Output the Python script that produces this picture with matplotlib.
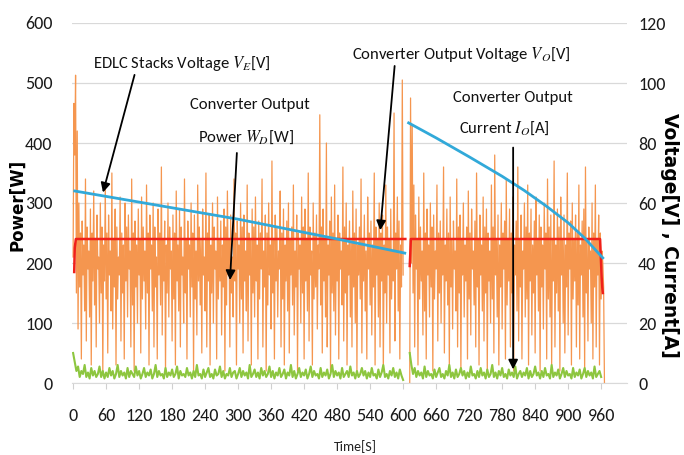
import matplotlib
matplotlib.use("Agg")
import matplotlib.pyplot as plt
import matplotlib.font_manager as fm
import numpy as np

# ---- choose a narrow (Calibri-like) font if one is available ----
_names = {f.name for f in fm.fontManager.ttflist}
_dejavu_cond = any(f.name == 'DejaVu Sans' and 'ondensed' in f.fname for f in fm.fontManager.ttflist)
FONT = None
STRETCH = 'normal'
for cand in ['Carlito', 'Roboto Condensed', 'Liberation Sans Narrow', 'Open Sans Condensed']:
    if cand in _names:
        FONT = cand
        break
if FONT is None:
    if _dejavu_cond:
        FONT, STRETCH = 'DejaVu Sans', 'condensed'
    elif 'Lato' in _names:
        FONT = 'Lato'
    else:
        FONT = 'DejaVu Sans'
plt.rcParams['font.family'] = [FONT, 'DejaVu Sans']
plt.rcParams['font.stretch'] = STRETCH
plt.rcParams['mathtext.fontset'] = 'stix'

# ---------------- data ----------------
x_ticks = [0, 60, 120, 180, 240, 300, 360, 420, 480, 540, 600, 660, 720, 780, 840, 900, 960]
power_ticks = [0, 100, 200, 300, 400, 500, 600]
va_ticks = [0, 20, 40, 60, 80, 100, 120]

# Converter output power W_D [W], segment 1: t = 0..600 s every 1.5 s
power_t1_start, power_t1_step = 0, 1.5
power_seg1 = [
    210, 466, 380, 513, 150, 420, 90, 300, 160, 250, 40, 270, 180, 230, 120, 340, 70, 260, 190, 220,
    110, 290, 30, 250, 170, 320, 130, 240, 60, 280, 190, 210, 100, 300, 150, 260, 20, 230, 170, 330,
    140, 250, 50, 280, 180, 220, 120, 350, 90, 240, 160, 290, 30, 260, 140, 210, 180, 310, 70, 250,
    150, 230, 40, 300, 170, 260, 110, 280, 190, 220, 60, 340, 130, 250, 20, 270, 160, 230, 100, 290,
    180, 240, 50, 310, 140, 260, 170, 220, 90, 330, 150, 250, 30, 280, 190, 230, 120, 300, 60, 260,
    160, 210, 40, 290, 180, 250, 130, 360, 80, 240, 170, 270, 20, 230, 150, 300, 110, 260, 190, 220,
    70, 280, 140, 250, 30, 320, 170, 230, 120, 290, 60, 260, 180, 210, 100, 340, 150, 240, 40, 270,
    190, 230, 110, 300, 160, 250, 20, 280, 140, 220, 80, 330, 170, 260, 130, 240, 50, 290, 180, 210,
    120, 350, 60, 250, 170, 280, 30, 230, 150, 300, 100, 260, 190, 220, 40, 310, 140, 240, 170, 270,
    80, 230, 160, 290, 20, 260, 130, 320, 180, 240, 60, 280, 150, 210, 110, 340, 170, 250, 30, 270,
    190, 230, 100, 300, 140, 260, 50, 280, 170, 220, 120, 330, 70, 250, 180, 240, 30, 290, 150, 260,
    110, 310, 170, 230, 40, 270, 140, 250, 190, 340, 60, 220, 160, 280, 20, 250, 130, 300, 180, 230,
    90, 370, 150, 240, 40, 280, 170, 260, 110, 220, 190, 320, 60, 250, 140, 290, 30, 230, 170, 270,
    120, 300, 50, 240, 180, 260, 130, 330, 80, 220, 160, 280, 20, 250, 190, 230, 100, 310, 150, 260,
    40, 290, 170, 240, 120, 350, 70, 260, 180, 220, 30, 300, 140, 250, 160, 280, 90, 230, 190, 447,
    130, 260, 50, 290, 170, 240, 110, 400, 60, 230, 180, 270, 20, 310, 150, 250, 120, 330, 80, 240,
    170, 280, 40, 250, 190, 220, 130, 360, 70, 260, 150, 300, 30, 230, 180, 270, 110, 240, 60, 320,
    160, 250, 100, 290, 20, 230, 180, 260, 140, 340, 50, 240, 170, 280, 120, 220, 40, 310, 190, 250,
    130, 270, 80, 230, 160, 350, 30, 260, 180, 240, 110, 300, 60, 250, 170, 280, 20, 230, 150, 330,
    100, 260, 180, 240, 50, 290, 140, 220, 170, 450, 70, 250, 190, 310, 120, 270, 40, 230, 160, 505,
    180,
]
# segment 2: t = 612..966 s every 1.5 s
power_t2_start, power_t2_step = 612, 1.5
power_seg2 = [
    0, 475, 200, 430, 150, 330, 60, 280, 190, 240, 30, 310, 140, 260, 170, 220, 80, 350, 120, 250,
    40, 290, 180, 230, 110, 300, 160, 260, 20, 280, 140, 220, 190, 330, 70, 250, 150, 270, 100, 240,
    180, 360, 50, 230, 170, 290, 130, 250, 30, 310, 160, 240, 90, 270, 190, 220, 120, 340, 60, 260,
    150, 280, 20, 240, 180, 300, 110, 230, 170, 260, 40, 320, 140, 250, 80, 290, 190, 220, 130, 270,
    60, 350, 160, 240, 30, 280, 180, 230, 120, 310, 70, 260, 150, 290, 20, 250, 170, 220, 100, 330,
    140, 260, 50, 380, 180, 240, 110, 280, 30, 230, 160, 300, 90, 250, 190, 270, 40, 340, 130, 240,
    170, 290, 60, 250, 150, 310, 20, 230, 180, 270, 120, 360, 70, 240, 160, 280, 40, 220, 190, 300,
    110, 260, 140, 330, 30, 250, 170, 290, 80, 230, 150, 270, 50, 310, 180, 240, 120, 280, 20, 260,
    160, 230, 90, 300, 190, 250, 40, 340, 140, 260, 110, 280, 30, 240, 170, 370, 60, 230, 150, 290,
    120, 260, 20, 310, 180, 240, 100, 280, 50, 230, 160, 350, 80, 250, 190, 270, 30, 300, 140, 240,
    170, 280, 60, 250, 130, 330, 40, 230, 180, 270, 110, 290, 20, 360, 150, 240, 70, 260, 190, 220,
    100, 300, 40, 250, 160, 330, 60, 240, 180, 280, 30, 250, 140, 220, 200, 160, 0,
]

# Converter output current I_O [A], every 3 s
current_t1_start, current_t1_step = 0, 3
current_seg1 = [
    10, 7, 4, 5.5, 2, 4, 3, 6, 2, 3.5, 1.5, 5, 2.5, 4, 2, 3, 5.5, 2, 4, 1.5,
    3.5, 2, 5, 2.5, 4, 1.5, 3, 6, 2, 4, 2.5, 3.5, 1.5, 5, 2, 4, 3, 2, 5.5, 2.5,
    4, 1.5, 3, 5, 2, 3.5, 2.5, 4.5, 1.5, 3, 6, 2, 4, 2.5, 3, 1.5, 5, 2, 3.5, 2.5,
    4.5, 2, 3, 5.5, 1.5, 4, 2.5, 3, 2, 5, 2.5, 3.5, 1.5, 4, 2, 6, 2.5, 3, 1.5, 4.5,
    2, 3.5, 5, 2, 3, 1.5, 4.5, 2.5, 3, 5.5, 2, 4, 1.5, 3, 2.5, 5, 2, 3.5, 4, 1.5,
    3, 5, 2, 4, 2.5, 3.5, 1.5, 6, 2, 3, 4.5, 2, 3.5, 1.5, 5, 2.5, 4, 2, 3, 5.5,
    2, 4, 1.5, 3.5, 2.5, 5, 2, 3, 4.5, 1.5, 3.5, 2.5, 6, 2, 4, 1.5, 3, 5, 2, 3.5,
    2.5, 4.5, 1.5, 3, 5.5, 2, 4, 2.5, 3, 1.5, 5, 2, 3.5, 2.5, 4.5, 1.5, 3, 6, 2, 4,
    2.5, 3.5, 1.5, 5, 2, 3, 4, 2, 5.5, 2.5, 3.5, 1.5, 4, 2, 3, 5, 2.5, 4, 1.5, 3.5,
    2, 5, 2.5, 3, 1.5, 4.5, 2, 3.5, 6, 2, 3, 1.5, 4, 2.5, 5, 2, 3.5, 1.5, 4.5, 2.5,
    1,
]
current_t2_start, current_t2_step = 612, 3
current_seg2 = [
    10, 6, 3, 5, 2, 4, 2.5, 3.5, 1.5, 5.5, 2, 4, 2.5, 3, 1.5, 4.5, 2, 3.5, 5, 2,
    3, 1.5, 4, 2.5, 6, 2, 3.5, 1.5, 4.5, 2, 3, 5, 2.5, 4, 1.5, 3.5, 2, 5.5, 2.5, 3,
    1.5, 4, 2, 5, 2.5, 3.5, 1.5, 4.5, 2, 3, 6, 2, 3.5, 1.5, 4, 2.5, 5, 2, 3, 1.5,
    4.5, 2.5, 3.5, 2, 5.5, 1.5, 3, 4, 2, 3.5, 2.5, 5, 1.5, 4, 2, 3, 5.5, 2.5, 3.5, 1.5,
    4, 2, 5, 2.5, 3, 1.5, 6, 2, 3.5, 2.5, 4.5, 1.5, 3, 5, 2, 4, 2.5, 3, 1.5, 5,
    2, 3.5, 2.5, 4.5, 1.5, 3, 5, 2, 4, 2.5, 3.5, 1.5, 5.5, 2, 3, 4, 2,
]

# EDLC stacks voltage V_E and converter output voltage V_O [V]
volt_t1 = [3, 60, 120, 180, 240, 300, 360, 420, 480, 540, 603]
volt_seg1 = [64.0, 62.2, 60.3, 58.4, 56.5, 54.6, 52.4, 50.2, 48.0, 45.7, 43.3]
volt_t2 = [610, 660, 720, 780, 820, 860, 900, 930, 963]
volt_seg2 = [86.7, 81.7, 75.4, 68.9, 64.2, 59.0, 53.4, 48.3, 41.7]

# red series [V]
red_t1 = [2, 3, 5, 604]
red_seg1 = [37, 45, 48, 48]
red_t2 = [612, 613, 614, 958, 961, 962, 963]
red_seg2 = [39, 43, 48, 48, 35, 32, 30]

# ---------------- figure ----------------
fig = plt.figure(figsize=(6.84, 4.55), dpi=100)
ax = fig.add_axes([72/684, 1-383/455, (627-72)/684, 360/455])
ax2 = ax.twinx()

orange = '#F5964F'
green = '#8DC63F'
blue = '#31A9D9'
red = '#F0201A'

t1 = power_t1_start + power_t1_step*np.arange(len(power_seg1))
t2 = power_t2_start + power_t2_step*np.arange(len(power_seg2))
ax.plot(t1, power_seg1, color=orange, lw=0.9, zorder=2)
ax.plot(t2, power_seg2, color=orange, lw=0.9, zorder=2)

c1 = current_t1_start + current_t1_step*np.arange(len(current_seg1))
c2 = current_t2_start + current_t2_step*np.arange(len(current_seg2))
ax2.plot(c1, current_seg1, color=green, lw=1.5, zorder=3)
ax2.plot(c2, current_seg2, color=green, lw=1.5, zorder=3)

ax2.plot(red_t1, red_seg1, color=red, lw=1.8, zorder=4)
ax2.plot(red_t2, red_seg2, color=red, lw=1.8, zorder=4)
ax2.plot(volt_t1, volt_seg1, color=blue, lw=2.0, zorder=5)
ax2.plot(volt_t2, volt_seg2, color=blue, lw=2.0, zorder=5)

ax.set_xlim(-2, 1007)
ax.set_ylim(0, 600)
ax2.set_ylim(0, 120)
ax.set_xticks(x_ticks)
ax.set_xticklabels([str(v) for v in x_ticks])
ax.set_yticks(power_ticks)
ax2.set_yticks(va_ticks)

ax.yaxis.grid(True, color='#D9D9D9', lw=0.9)
ax.set_axisbelow(True)
for a in (ax, ax2):
    for s in ('left', 'right', 'top', 'bottom'):
        a.spines[s].set_visible(False)
ax.spines['bottom'].set_visible(True)
ax.spines['bottom'].set_color('#D9D9D9')

ax.tick_params(axis='x', colors='#D0D0D0', length=4, width=0.8, labelcolor='#1a1a1a',
               labelsize=13, pad=14)
ax.tick_params(axis='y', length=0, labelsize=13, labelcolor='#1a1a1a', pad=14)
ax2.tick_params(axis='y', length=0, labelsize=13, labelcolor='#1a1a1a', pad=8)

ax.set_ylabel('Power[W]', fontsize=12, fontweight='bold', family=['DejaVu Sans'])
ax2.set_ylabel('Voltage[V] , Current[A]', fontsize=13.5, fontweight='bold',
               family=['DejaVu Sans'], rotation=-90)
ax.set_xlabel('Time[S]', fontsize=10, color='#222222', labelpad=0)

# annotations (in voltage-axis data units; power/5)
txtkw = dict(fontsize=12, color='#111111', ha='center', va='center', zorder=10)
arrkw = dict(arrowstyle='-|>', color='black', lw=1.3, mutation_scale=14)

ax2.annotate('', xy=(53, 313/5), xytext=(113, 518/5), arrowprops=arrkw, zorder=10)
ax2.text(198, 533/5, 'EDLC Stacks Voltage $V_E$[V]', **txtkw)

ax2.annotate('', xy=(285, 167/5), xytext=(298, 388/5), arrowprops=arrkw, zorder=10)
ax2.text(322, 463/5, 'Converter Output', **txtkw)
ax2.text(315, 410/5, 'Power $W_D$[W]', **txtkw)

ax2.annotate('', xy=(558, 250/5), xytext=(585, 533/5), arrowprops=arrkw, zorder=10)
ax2.text(705, 547/5, 'Converter Output Voltage $V_O$[V]', **txtkw)

ax2.annotate('', xy=(800, 18/5), xytext=(800, 397/5), arrowprops=arrkw, zorder=10)
ax2.text(800, 475/5, 'Converter Output', **txtkw)
ax2.text(785, 425/5, 'Current $I_O$[A]', **txtkw)

ax.xaxis.set_label_coords((355-72)/555, -(440-383)/360)
ax.yaxis.set_label_coords(-(72-17)/555, (383-205)/360)
ax2.yaxis.set_label_coords((670-72)/555, (383-235)/360)
ax2.yaxis.label.set_va('center')
ax.yaxis.label.set_va('center')

fig.savefig('out.png', dpi=100)
